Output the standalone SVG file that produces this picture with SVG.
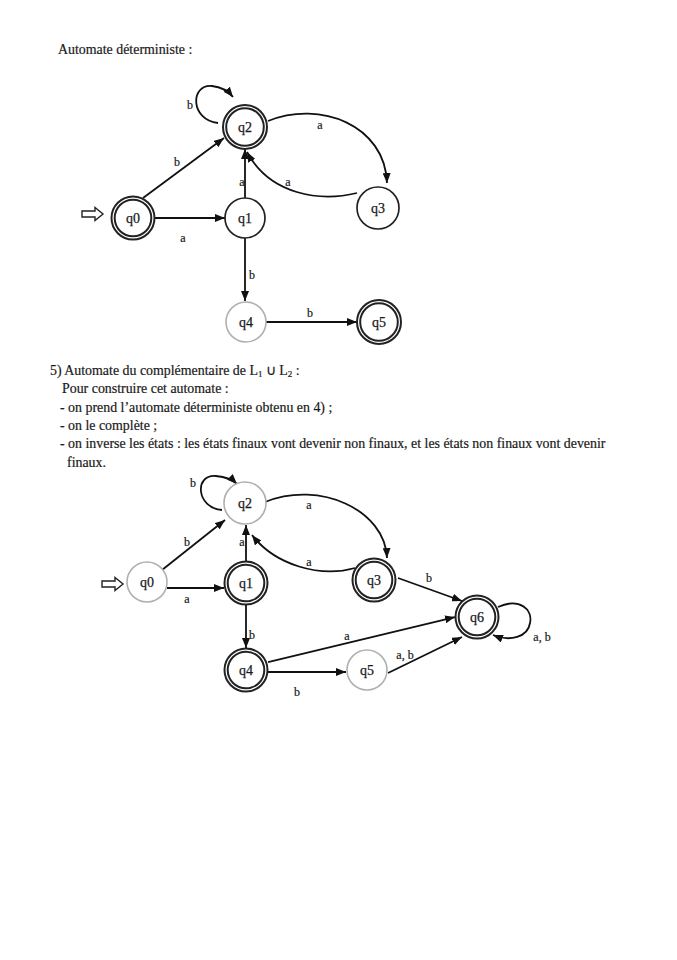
<svg xmlns="http://www.w3.org/2000/svg" width="677" height="960" viewBox="0 0 677 960">
  <defs>
    <marker id="arrow" viewBox="0 0 10 8" refX="10" refY="4" markerWidth="10" markerHeight="8" markerUnits="userSpaceOnUse" orient="auto">
      <path d="M0,0 L10,4 L0,8 z" fill="#111"/>
    </marker>
  </defs>
  <style>
    text { font-family: "Liberation Serif", "Times New Roman", serif; fill: #1a1a1a; }
    .para { font-size: 13.9px; stroke: #1a1a1a; stroke-width: 0.2; }
    .state { font-size: 14px; text-anchor: middle; stroke: #1a1a1a; stroke-width: 0.25; }
    .lbl { font-size: 12px; text-anchor: middle; stroke: #1a1a1a; stroke-width: 0.2; }
    .edge { fill: none; stroke: #111; stroke-width: 1.8; marker-end: url(#arrow); }
    .ring { fill: #fff; stroke: #222; stroke-width: 2; }
    .plain { fill: #fff; stroke: #222; stroke-width: 1.7; }
    .grey { fill: #fff; stroke: #b0b0b0; stroke-width: 1.6; }
    .start { fill: #fff; stroke: #222; stroke-width: 1.4; }
  </style>
  <rect width="677" height="960" fill="#fff"/>

  <!-- Heading of the first automaton -->
  <text class="para" x="58" y="54">Automate déterministe :</text>

  <!-- ===== First automaton: deterministic ===== -->
  <g id="connectors-top">
    <polygon class="start" points="82,211 95,211 95,207.5 103,214 95,220.5 95,217 82,217"/>
    <path class="edge" d="M218,123 C190,120 190,84 212,86 C222,87 229,92 233,97"/>
    <text class="lbl" x="190" y="109">b</text>
    <path class="edge" d="M143,198 L224,138"/>
    <text class="lbl" x="177" y="166">b</text>
    <path class="edge" d="M155,218 L225,218"/>
    <text class="lbl" x="183" y="242">a</text>
    <path class="edge" d="M245,198 L245,149"/>
    <text class="lbl" x="242" y="186">a</text>
    <path class="edge" d="M268,121 C320,100 385,125 387,183"/>
    <text class="lbl" x="320" y="129">a</text>
    <path class="edge" d="M357,193 C320,202 270,195 247,152"/>
    <text class="lbl" x="288" y="186">a</text>
    <path class="edge" d="M245,238 L245,301"/>
    <text class="lbl" x="252" y="279">b</text>
    <path class="edge" d="M266,322 L357,322"/>
    <text class="lbl" x="310" y="317">b</text>
  </g>

  <g id="t-q0">
    <circle class="ring" cx="133" cy="218" r="21.5"/>
    <circle class="ring" cx="133" cy="218" r="18.3"/>
    <text class="state" x="133" y="223">q0</text>
  </g>
  <g id="t-q1">
    <circle class="plain" cx="245" cy="218" r="20"/>
    <text class="state" x="245" y="223">q1</text>
  </g>
  <g id="t-q2">
    <circle class="ring" cx="245" cy="127" r="22"/>
    <circle class="ring" cx="245" cy="127" r="18.8"/>
    <text class="state" x="245" y="132">q2</text>
  </g>
  <g id="t-q3">
    <circle class="plain" cx="378" cy="208" r="21"/>
    <text class="state" x="378" y="213">q3</text>
  </g>
  <g id="t-q4">
    <circle class="grey" cx="246" cy="322" r="20"/>
    <text class="state" x="246" y="327">q4</text>
  </g>
  <g id="t-q5">
    <circle class="ring" cx="379" cy="322" r="22"/>
    <circle class="ring" cx="379" cy="322" r="18.8"/>
    <text class="state" x="379" y="327">q5</text>
  </g>

  <!-- Explanation of the complement construction -->
  <text class="para" x="50" y="375">5) Automate du complémentaire de L<tspan font-size="9" dy="2">1</tspan><tspan dy="-2"> ∪ L</tspan><tspan font-size="9" dy="2">2</tspan><tspan dy="-2"> :</tspan></text>
  <text class="para" x="62" y="393">Pour construire cet automate :</text>
  <text class="para" x="60" y="412">- on prend l’automate déterministe obtenu en 4) ;</text>
  <text class="para" x="60" y="430">- on le complète ;</text>
  <text class="para" x="60" y="448">- on inverse les états : les états finaux vont devenir non finaux, et les états non finaux vont devenir</text>
  <text class="para" x="67" y="467">finaux.</text>

  <!-- ===== Second automaton: complement ===== -->
  <g id="connectors-bottom">
    <polygon class="start" points="102,581 115,581 115,577.5 123,584 115,590.5 115,587 102,587"/>
    <path class="edge" d="M222,510 C196,508 194,474 216,476 C226,477 233,480 237,484"/>
    <text class="lbl" x="193" y="487">b</text>
    <path class="edge" d="M162,570 L225,520"/>
    <text class="lbl" x="187" y="546">b</text>
    <path class="edge" d="M167,588 L224,588"/>
    <text class="lbl" x="187" y="603">a</text>
    <path class="edge" d="M246,561 L246,525"/>
    <text class="lbl" x="242" y="546">a</text>
    <path class="edge" d="M265,502 C320,480 385,510 387,558"/>
    <text class="lbl" x="309" y="509">a</text>
    <path class="edge" d="M355,568 C320,578 275,565 252,535"/>
    <text class="lbl" x="309" y="566">a</text>
    <path class="edge" d="M246,605 L246,648"/>
    <text class="lbl" x="252" y="639">b</text>
    <path class="edge" d="M268,672 L346,672"/>
    <text class="lbl" x="297" y="696">b</text>
    <path class="edge" d="M268,662 L455,617"/>
    <text class="lbl" x="347" y="640">a</text>
    <path class="edge" d="M388,673 L462,637"/>
    <text class="lbl" x="405" y="659">a, b</text>
    <path class="edge" d="M398,578 L462,601"/>
    <text class="lbl" x="429" y="582">b</text>
    <path class="edge" d="M498,607 C520,597 533,610 530,623 C528,637 510,642 493,635"/>
    <text class="lbl" x="542" y="641">a, b</text>
  </g>

  <g id="b-q0">
    <circle class="grey" cx="147" cy="582" r="20"/>
    <text class="state" x="147" y="587">q0</text>
  </g>
  <g id="b-q1">
    <circle class="ring" cx="246" cy="583" r="21.5"/>
    <circle class="ring" cx="246" cy="583" r="18.3"/>
    <text class="state" x="246" y="588">q1</text>
  </g>
  <g id="b-q2">
    <circle class="grey" cx="245" cy="503" r="21"/>
    <text class="state" x="245" y="508">q2</text>
  </g>
  <g id="b-q3">
    <circle class="ring" cx="374" cy="580" r="21.5"/>
    <circle class="ring" cx="374" cy="580" r="18.3"/>
    <text class="state" x="374" y="585">q3</text>
  </g>
  <g id="b-q4">
    <circle class="ring" cx="246" cy="670" r="21.5"/>
    <circle class="ring" cx="246" cy="670" r="18.3"/>
    <text class="state" x="246" y="675">q4</text>
  </g>
  <g id="b-q5">
    <circle class="grey" cx="367" cy="670" r="20"/>
    <text class="state" x="367" y="675">q5</text>
  </g>
  <g id="b-q6">
    <circle class="ring" cx="477" cy="617" r="21.5"/>
    <circle class="ring" cx="477" cy="617" r="18.3"/>
    <text class="state" x="477" y="622">q6</text>
  </g>
</svg>
